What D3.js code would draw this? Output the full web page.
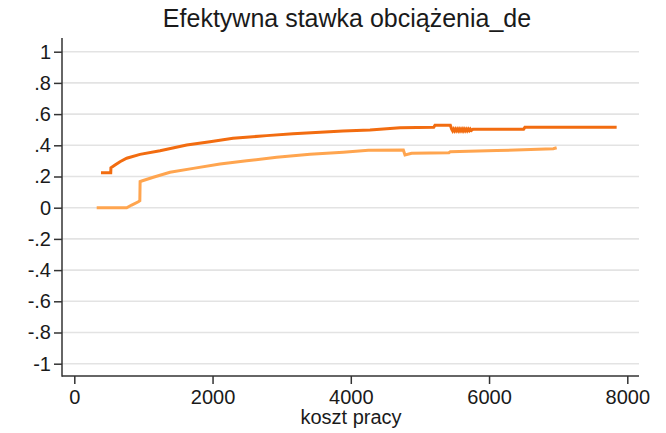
<!DOCTYPE html>
<html>
<head>
<meta charset="utf-8">
<script src="https://cdn.jsdelivr.net/npm/d3@7"></script>
<style>
  html, body { margin: 0; padding: 0; background: #fff; }
  svg { display: block; font-family: "Liberation Sans", Arial, sans-serif; }
</style>
</head>
<body>
<div class="chart"></div>
<script>
// koszt pracy -> effective rate, upper (dark) series
const darkX = [386, 527, 530, 589, 661, 758, 950, 1240, 1626, 1963, 2296, 2783, 3164, 3887, 4278, 4712, 5200, 5218, 5440,
  5459, 5474, 5489, 5504, 5519, 5534, 5549, 5564, 5579, 5594, 5609, 5624, 5639, 5654, 5669, 5684, 5699, 5714, 5729, 5744, 5767,
  6500, 6519, 7846];
const darkY = [0.224, 0.224, 0.256, 0.274, 0.295, 0.317, 0.342, 0.365, 0.402, 0.423, 0.445, 0.462, 0.474, 0.492, 0.498, 0.513, 0.515, 0.528, 0.528,
  0.504, 0.492, 0.504, 0.492, 0.504, 0.493, 0.504, 0.492, 0.504, 0.493, 0.504, 0.492, 0.504, 0.493, 0.504, 0.493, 0.504, 0.494, 0.504, 0.495, 0.503,
  0.503, 0.515, 0.515];

// lower (light) series
const lightX = [324, 758, 830, 926, 948, 952, 975, 1143, 1384, 1721, 2108, 2494, 2928, 3410, 3891, 4253, 4760, 4784, 4880, 5420, 5440, 6110, 6929, 6978];
const lightY = [0, 0, 0.017, 0.038, 0.045, 0.167, 0.171, 0.195, 0.227, 0.252, 0.28, 0.301, 0.323, 0.342, 0.356, 0.368, 0.37, 0.338, 0.349, 0.352, 0.359, 0.366, 0.378, 0.384];

const yTicks = [1, 0.8, 0.6, 0.4, 0.2, 0, -0.2, -0.4, -0.6, -0.8, -1];
const yTickLabels = ["1", ".8", ".6", ".4", ".2", "0", "-.2", "-.4", "-.6", "-.8", "-1"];
const xTicks = [0, 2000, 4000, 6000, 8000];

const W = 666, H = 433;
const axisX = 62, axisY = 376, axisRight = 639, axisTop = 38;

const svg = d3.select(".chart").append("svg")
  .attr("width", W).attr("height", H);

const x = d3.scaleLinear().domain([0, 8000]).range([74.3, 627.3]);
const y = d3.scaleLinear().domain([-1, 1]).range([363.7, 51.7]);

// gridlines
svg.append("g").selectAll("line")
  .data(yTicks)
  .join("line")
  .attr("x1", axisX).attr("x2", axisRight)
  .attr("y1", d => y(d)).attr("y2", d => y(d))
  .attr("stroke", "#e3e3e3").attr("stroke-width", 1.6);

// axes
const yAxis = svg.append("g")
  .attr("transform", `translate(${axisX},0)`)
  .call(d3.axisLeft(y).tickValues(yTicks).tickFormat((d, i) => yTickLabels[i]).tickSize(8).tickPadding(3));
const xAxis = svg.append("g")
  .attr("transform", `translate(0,${axisY})`)
  .call(d3.axisBottom(x).tickValues(xTicks).tickFormat(d3.format("d")).tickSize(8).tickPadding(6));

[yAxis, xAxis].forEach(g => {
  g.select(".domain").remove();
  g.selectAll(".tick line").attr("stroke", "#333").attr("stroke-width", 1.5);
  g.selectAll(".tick text").attr("fill", "#1a1a1a").style("font-size", "20px");
});

svg.append("line").attr("x1", axisX).attr("x2", axisX).attr("y1", axisTop).attr("y2", axisY + 0.7)
  .attr("stroke", "#333").attr("stroke-width", 1.5);
svg.append("line").attr("x1", axisX).attr("x2", axisRight).attr("y1", axisY).attr("y2", axisY)
  .attr("stroke", "#333").attr("stroke-width", 1.5);

// series
const line = d3.line().x(d => x(d[0])).y(d => y(d[1]));

svg.append("path")
  .datum(d3.zip(lightX, lightY))
  .attr("d", line)
  .attr("fill", "none").attr("stroke", "#ffa54f").attr("stroke-width", 3);

svg.append("path")
  .datum(d3.zip(darkX, darkY))
  .attr("d", line)
  .attr("fill", "none").attr("stroke", "#f26c10").attr("stroke-width", 3);

// title and axis title
svg.append("text")
  .attr("x", 347).attr("y", 27)
  .attr("text-anchor", "middle")
  .style("font-size", "25px").attr("fill", "#1a1a1a")
  .text("Efektywna stawka obciążenia_de");

svg.append("text")
  .attr("x", 351).attr("y", 424)
  .attr("text-anchor", "middle")
  .style("font-size", "20px").attr("fill", "#1a1a1a")
  .text("koszt pracy");
</script>
</body>
</html>
